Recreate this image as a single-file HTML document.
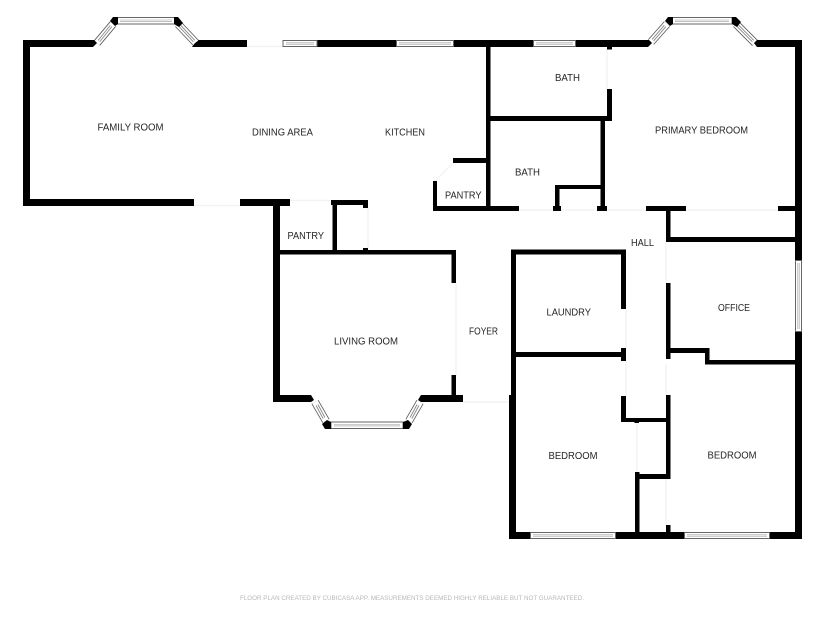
<!DOCTYPE html>
<html><head><meta charset="utf-8"><style>
html,body{margin:0;padding:0;background:#fff;width:825px;height:619px;overflow:hidden}
svg{display:block}
text{font-family:"Liberation Sans",sans-serif;font-size:10px;fill:#262626}
.w{fill:#000}
</style></head><body>
<svg width="825" height="619" viewBox="0 0 825 619" xmlns="http://www.w3.org/2000/svg">
<!-- faint door openings -->
<g stroke="#f3f3f3" stroke-width="1.5" fill="none">
<path d="M247 46.5H283M194 205.5H240M290 200.5H331M368 208V248M456 283V375M463 402H509M519 210H553M561 210H597M607 210H646M686 210H778M607 49V89M626 309V348M626 361V396M666 242V283M666 364V395M666 479V525M637 423V472M453 163L435 181"/>
</g>
<!-- walls -->
<g class="w">
<rect x="23" y="40" width="7" height="166"/>
<rect x="23" y="40" width="70" height="7"/>
<rect x="197" y="40" width="50" height="7"/>
<rect x="23" y="199" width="171" height="7"/>
<rect x="240" y="199" width="50" height="7"/>
<rect x="317" y="40" width="79" height="7"/>
<rect x="454" y="40" width="79" height="7"/>
<rect x="576" y="40" width="72" height="7"/>
<rect x="757" y="40" width="45" height="7"/>
<rect x="795" y="40" width="7" height="220"/>
<rect x="795" y="332" width="7" height="207"/>
<!-- baths -->
<rect x="486" y="47" width="4.5" height="164"/>
<rect x="490" y="116" width="122" height="5"/>
<rect x="607" y="89" width="5" height="32"/>
<rect x="607" y="47" width="5" height="2.5"/>
<rect x="600.5" y="118" width="4.5" height="90"/>
<rect x="555" y="185" width="46" height="4"/>
<rect x="555" y="185" width="4.5" height="23"/>
<rect x="553" y="206" width="8" height="5"/>
<rect x="597" y="206" width="10" height="5"/>
<!-- kitchen pantry -->
<rect x="453" y="158" width="33" height="5"/>
<rect x="433" y="181" width="4" height="30"/>
<rect x="433" y="206" width="86" height="5"/>
<!-- hall top -->
<rect x="646" y="206" width="40" height="5"/>
<rect x="778" y="206" width="17" height="5"/>
<rect x="666" y="206" width="4.5" height="36"/>
<rect x="666" y="237" width="129" height="5"/>
<!-- lower pantry -->
<rect x="273" y="199" width="7" height="203"/>
<rect x="331" y="200" width="37" height="5"/>
<rect x="332.5" y="200" width="4.5" height="50"/>
<rect x="363" y="200" width="5" height="8"/>
<rect x="363" y="248" width="5" height="3"/>
<!-- living -->
<rect x="273" y="250" width="183" height="4.5"/>
<rect x="451.5" y="250" width="4.5" height="33"/>
<rect x="451.5" y="375" width="4.5" height="22"/>
<rect x="273" y="395" width="38" height="7"/>
<rect x="421" y="395" width="42" height="7"/>
<!-- laundry / bedrooms -->
<rect x="511" y="249.5" width="115" height="5"/>
<rect x="511" y="250" width="5" height="150"/>
<rect x="509" y="395" width="7" height="144"/>
<rect x="621" y="250" width="5" height="59"/>
<rect x="516" y="352" width="110" height="5"/>
<rect x="621" y="348" width="5" height="13"/>
<rect x="621" y="396" width="5" height="26"/>
<rect x="621" y="418" width="49" height="4"/>
<rect x="634.5" y="418" width="4.5" height="5"/>
<rect x="635" y="472" width="4.5" height="61"/>
<rect x="639" y="474" width="31" height="5"/>
<rect x="666" y="395" width="4.5" height="84"/>
<rect x="666" y="283" width="4.5" height="76"/>
<rect x="666" y="348" width="43" height="5"/>
<rect x="705" y="348" width="4.5" height="16"/>
<rect x="705" y="360" width="90" height="4.5"/>
<rect x="666" y="525" width="4.5" height="8"/>
<rect x="509" y="532" width="21" height="7"/>
<rect x="616" y="532" width="68" height="7"/>
<rect x="770" y="532" width="32" height="7"/>
</g>
<!-- horizontal / vertical windows -->
<g fill="#fff" stroke="#666" stroke-width="1">
<rect x="283" y="40.5" width="34" height="6"/>
<rect x="396.5" y="40.5" width="57" height="6"/>
<rect x="533.5" y="40.5" width="42" height="6"/>
<rect x="117" y="17.5" width="58" height="6.5"/>
<rect x="672" y="17.5" width="60" height="6.5"/>
<rect x="331" y="422" width="72" height="6.5"/>
<rect x="530.5" y="532.5" width="85" height="6"/>
<rect x="684.5" y="532.5" width="85" height="6"/>
<rect x="795.5" y="260.5" width="6" height="71"/>
</g>
<g stroke="#999" stroke-width="2" fill="none">
<path d="M286 43.5H314M399 43.5H451M536 43.5H573M120 20.7H172M675 20.7H729M334 425.2H400M533 535.5H613M687 535.5H767M798.5 263V329"/>
</g>
<g stroke="#fff" stroke-width="0.8" fill="none">
<path d="M286 43.5H314M399 43.5H451M536 43.5H573M120 20.7H172M675 20.7H729M334 425.2H400M533 535.5H613M687 535.5H767M798.5 263V329"/>
</g>
<!-- diagonal windows -->
<g fill="none" stroke-linecap="butt">
<path d="M97 43L113 24M178 24L196 43M651 42L667 24M736 24L755 43M315 402L326 421M420 402L409 421" stroke="#555" stroke-width="8"/>
<path d="M97 43L113 24M178 24L196 43M651 42L667 24M736 24L755 43M315 402L326 421M420 402L409 421" stroke="#fff" stroke-width="6.4"/>
<path d="M99 41L111 26M180 26L194 41M653 40L665 26M738 26L753 41M317 405L324 418M418 405L411 418" stroke="#888" stroke-width="3"/>
<path d="M99 41L111 26M180 26L194 41M653 40L665 26M738 26L753 41M317 405L324 418M418 405L411 418" stroke="#fff" stroke-width="1.2"/>
</g>
<!-- window joints -->
<g class="w">
<polygon points="110,21 113,17 118,17 118,24 115,26"/>
<polygon points="174,17 178,17 183,23 179,27 174,24"/>
<polygon points="665,21 668,17 673,17 673,24 670,26"/>
<polygon points="732,17 736,17 741,22 737,27 732,24"/>
<polygon points="322,424 327,420 331,422 331,429 325,429"/>
<polygon points="403,422 408,420 412,424 409,429 403,429"/>
<polygon points="90,40 94,40 97,43 93,47 90,47"/>
<polygon points="192,47 195,43 199,40 199,47"/>
<polygon points="645,40 649,40 652,43 648,47 645,47"/>
<polygon points="754,43 757,40 760,40 760,47 757,47"/>
<polygon points="308,395 311,395 314,400 311,402 308,402"/>
<polygon points="421,402 418,400 421,395 424,395 424,402"/>
</g>
<!-- labels -->
<text x="97.5" y="130.5" textLength="66" lengthAdjust="spacingAndGlyphs">FAMILY ROOM</text>
<text x="252" y="135.5" textLength="61" lengthAdjust="spacingAndGlyphs">DINING AREA</text>
<text x="385" y="135.5" textLength="40" lengthAdjust="spacingAndGlyphs">KITCHEN</text>
<text x="445" y="198.5" textLength="36.5" lengthAdjust="spacingAndGlyphs">PANTRY</text>
<text x="515" y="175.5" textLength="25" lengthAdjust="spacingAndGlyphs">BATH</text>
<text x="555" y="81" textLength="25" lengthAdjust="spacingAndGlyphs">BATH</text>
<text x="655" y="133.5" textLength="93" lengthAdjust="spacingAndGlyphs">PRIMARY BEDROOM</text>
<text x="631" y="246" textLength="23" lengthAdjust="spacingAndGlyphs">HALL</text>
<text x="287.5" y="239" textLength="36.5" lengthAdjust="spacingAndGlyphs">PANTRY</text>
<text x="334" y="344.5" textLength="64" lengthAdjust="spacingAndGlyphs">LIVING ROOM</text>
<text x="469" y="334.5" textLength="29" lengthAdjust="spacingAndGlyphs">FOYER</text>
<text x="546.5" y="315.5" textLength="44.5" lengthAdjust="spacingAndGlyphs">LAUNDRY</text>
<text x="718" y="311" textLength="32" lengthAdjust="spacingAndGlyphs">OFFICE</text>
<text x="548.5" y="459" textLength="49" lengthAdjust="spacingAndGlyphs">BEDROOM</text>
<text x="707.5" y="458.5" textLength="49" lengthAdjust="spacingAndGlyphs">BEDROOM</text>
<text x="240" y="600" textLength="344" lengthAdjust="spacingAndGlyphs" style="font-size:6.5px;fill:#b8b8b8">FLOOR PLAN CREATED BY CUBICASA APP. MEASUREMENTS DEEMED HIGHLY RELIABLE BUT NOT GUARANTEED.</text>
</svg>
</body></html>
